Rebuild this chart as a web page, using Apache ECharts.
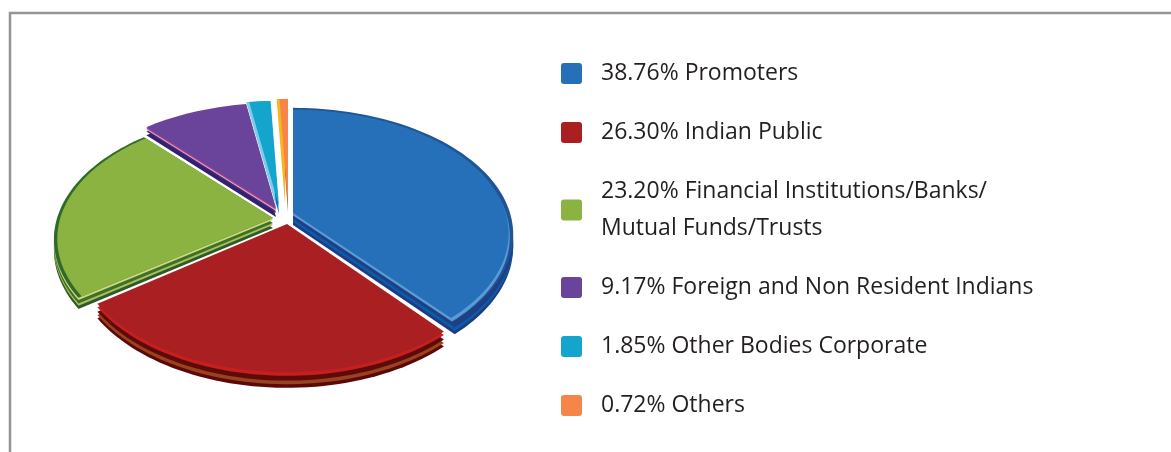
<!DOCTYPE html>
<html>
<head>
<meta charset="utf-8">
<style>
  html, body { margin: 0; padding: 0; background: #fff; }
  #main { width: 1171px; height: 452px; }
</style>
<script src="https://cdn.jsdelivr.net/npm/echarts@6/dist/echarts.min.js"></script>
</head>
<body>
<div id="main"></div>
<script>
const categories = [
  "Promoters",
  "Indian Public",
  "Financial Institutions/Banks/\nMutual Funds/Trusts",
  "Foreign and Non Resident Indians",
  "Other Bodies Corporate",
  "Others"
]
const shares = [38.76, 26.30, 23.20, 9.17, 1.85, 0.72]
const colors = ["#2670b9", "#a91f22", "#8ab341", "#69449a", "#14a5cc", "#f6854a"]

// tilt of the pie: far side is drawn smaller than the near side
const RX = 217
const RY = 123
const TILT = 0.17

// where each slice's point ends up once pulled out of the pie
const apex = [[293, 213], [287, 224], [273, 218], [276, 208], [279, 206], [288, 204]]
const widthScale = [1, 0.97, 0.995, 1, 1, 1]

// painted bottom to top under each slice: [dx, dy, radius scale, colour]
const layers = [
  [[0, 12, 1, "#1f3a80"], [0, 9, 1, "#0b5ca8"], [0, 6, 1, "#1f3f85"], [0, 0, 1, "#1f5596"], [0, 2.5, 0.985, "#5b9bd5"]],
  [[0, 13, 1, "#5c0808"], [0, 10, 1, "#98431d"], [0, 7, 1, "#5f0a0a"], [0, 3, 1, "#c3201f"]],
  [[0, 10, 1, "#2f5a26"], [0, 7, 1, "#a9bf5e"], [0, 5, 1, "#3f6f2c"], [0, 2, 1, "#cfd878"], [0, 0, 1, "#2f6a2a"]],
  [[0, 9, 1, "#33206e"], [0, 5, 1, "#3a2a78"], [0, 3, 1, "#e7a0b5"], [0, 1.5, 1, "#a0409a"]],
  [[0, 8, 1, "#0c74b0"], [-3, 0, 1, "#80cbea"]],
  [[0, 8, 1, "#a5683f"], [-3, 0, 1, "#f7b619"]]
]
const topScale = [0.98, 1, 0.985, 1, 1, 1]

const starts = []
let total = 0
shares.forEach(s => {
  starts.push(total)
  total += s
})

function slicePoints (i, from, to, dx, dy, scale) {
  const a0 = from / total * Math.PI * 2
  const a1 = to / total * Math.PI * 2
  const steps = Math.max(3, Math.ceil((to - from) * 2))
  const pts = [[apex[i][0] + dx, apex[i][1] + dy]]
  for (let n = 0; n <= steps; n++) {
    const a = a0 + (a1 - a0) * n / steps
    const u = Math.sin(a) * scale
    const v = Math.cos(a) * scale
    const d = 1 + TILT * v
    pts.push([
      apex[i][0] + dx + u * RX * widthScale[i] / d,
      apex[i][1] - v * RY / d + dy / d
    ])
  }
  return pts
}

function renderSlice (i) {
  return function (params, api) {
    const from = api.value(0)
    const to = from + api.value(1)
    const children = layers[i].map(l => ({
      type: "polygon",
      shape: { points: slicePoints(i, from, to, l[0], l[1], l[2]) },
      style: { fill: l[3] }
    }))
    children.push({
      type: "polygon",
      shape: { points: slicePoints(i, from, to, 0, 0, topScale[i]) },
      style: { fill: api.visual("color") }
    })
    return { type: "group", children }
  }
}

const series = categories.map((name, i) => ({
  type: "custom",
  name,
  coordinateSystem: "none",
  silent: true,
  animation: false,
  itemStyle: { color: colors[i] },
  renderItem: renderSlice(i),
  data: [[starts[i], shares[i]]]
}))

const chart = echarts.init(document.getElementById("main"), null, { renderer: "canvas" })
chart.setOption({
  animation: false,
  graphic: [{
    type: "rect",
    shape: { x: 10, y: 13, width: 1300, height: 600 },
    style: { fill: "none", stroke: "#939598", lineWidth: 2.5 }
  }],
  legend: {
    orient: "vertical",
    left: 561,
    top: 55,
    padding: 0,
    itemWidth: 21,
    itemHeight: 21,
    itemGap: 22,
    icon: "path://M3 0H18Q21 0 21 3V18Q21 21 18 21H3Q0 21 0 18V3Q0 0 3 0Z",
    selectedMode: false,
    formatter: name => shares[categories.indexOf(name)].toFixed(2) + "% " + name,
    textStyle: {
      fontFamily: "Open Sans",
      fontSize: 23,
      lineHeight: 37,
      color: "#231f20",
      padding: [0, 0, 0, 14]
    },
    data: categories
  },
  series
})
</script>
</body>
</html>
